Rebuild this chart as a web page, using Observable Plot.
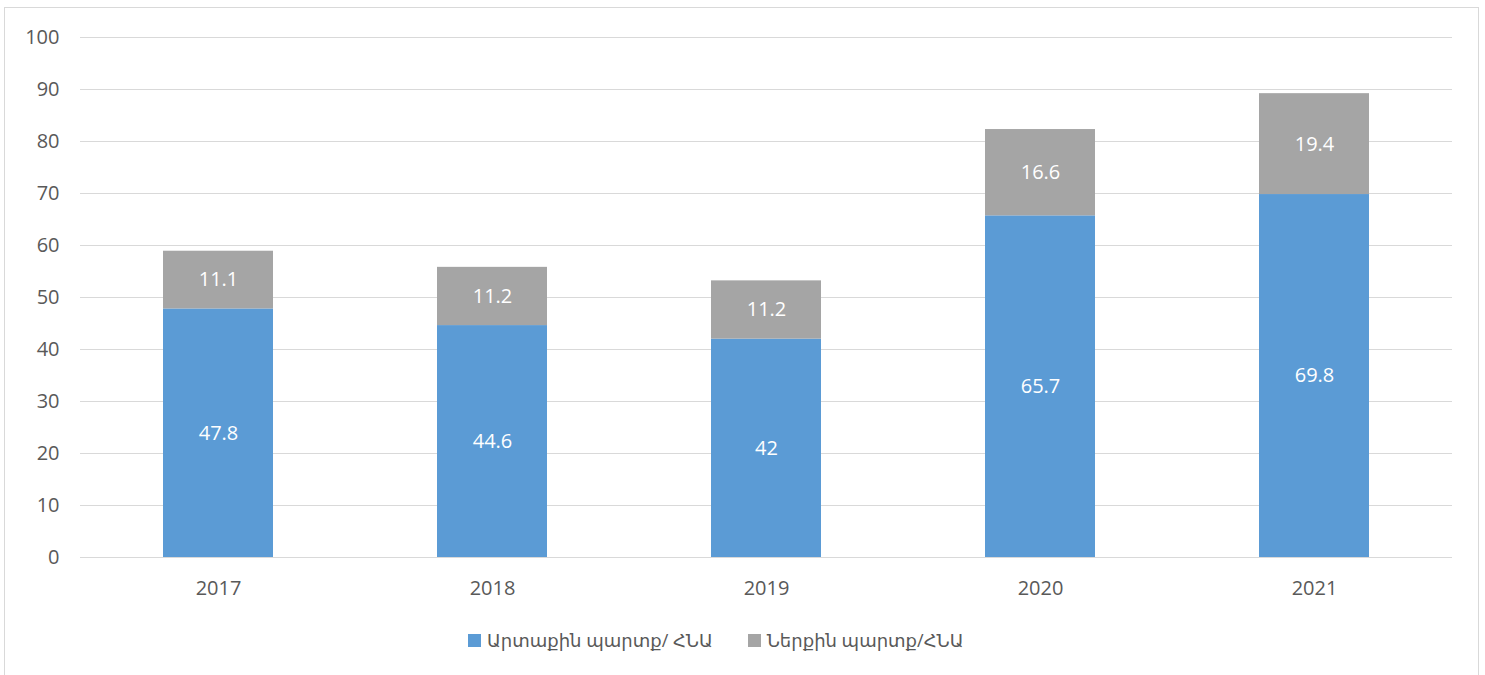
<!DOCTYPE html>
<html>
<head>
<meta charset="utf-8">
<script src="https://cdn.jsdelivr.net/npm/d3@7"></script>
<script src="https://cdn.jsdelivr.net/npm/@observablehq/plot@0.6"></script>
<style>
  html, body { margin: 0; padding: 0; background: #fff; }
  body { width: 1485px; height: 675px; overflow: hidden; position: relative; font-family: "Open Sans", "DejaVu Sans", sans-serif; }
  #frame { position: absolute; left: 4px; top: 7px; width: 1475px; height: 700px; border: 1px solid #d9d9d9; box-sizing: border-box; }
  #chart { position: absolute; left: 0; top: 0; }
  #legend { position: absolute; top: 628px; left: 468px; display: flex; font-size: 18px; color: #595959; }
  .item { display: flex; align-items: center; }
  .sw { width: 13px; height: 13px; margin-right: 6px; }
</style>
</head>
<body>
<div id="frame"></div>
<div id="chart"></div>
<div id="legend"></div>
<script>
const years = ["2017", "2018", "2019", "2020", "2021"];
const external = [47.8, 44.6, 42, 65.7, 69.8];
const internal = [11.1, 11.2, 11.2, 16.6, 19.4];
const seriesNames = ["Արտաքին պարտք/ ՀՆԱ", "Ներքին պարտք/ՀՆԱ"];
const seriesColors = ["#5b9bd5", "#a5a5a5"];
const yTicks = [0, 10, 20, 30, 40, 50, 60, 70, 80, 90, 100];

const data = [];
years.forEach((y, i) => {
  data.push({year: y, series: seriesNames[0], value: external[i]});
  data.push({year: y, series: seriesNames[1], value: internal[i]});
});

const plot = Plot.plot({
  width: 1485,
  height: 615,
  marginLeft: 80,
  marginRight: 33,
  marginTop: 37,
  marginBottom: 58,
  style: {fontFamily: '"Open Sans", "DejaVu Sans", sans-serif', fontSize: "20px", color: "#595959", background: "transparent"},
  x: {domain: years, paddingInner: 0.6, paddingOuter: 0.3, label: null},
  y: {domain: [0, 100], label: null},
  color: {domain: seriesNames, range: seriesColors},
  marks: [
    Plot.gridY(yTicks, {stroke: "#d9d9d9", strokeOpacity: 1, strokeWidth: 1}),
    Plot.axisY(yTicks, {tickSize: 0, tickPadding: 21, fontSize: 20, fill: "#595959", label: null}),
    Plot.axisX({tickSize: 0, tickPadding: 23, fontSize: 20, fill: "#595959", label: null}),
    Plot.barY(data, {x: "year", y: "value", fill: "series", order: seriesNames}),
    Plot.text(data, Plot.stackY({x: "year", y: "value", z: "series", order: seriesNames, text: d => String(d.value), fill: "white", fontSize: 20}))
  ]
});
document.getElementById("chart").appendChild(plot);

const legend = document.getElementById("legend");
seriesNames.forEach((name, i) => {
  const item = document.createElement("div");
  item.className = "item";
  if (i > 0) item.style.marginLeft = "35px";
  const sw = document.createElement("div");
  sw.className = "sw";
  sw.style.background = seriesColors[i];
  const label = document.createElement("span");
  label.textContent = name;
  item.appendChild(sw);
  item.appendChild(label);
  legend.appendChild(item);
});
</script>
</body>
</html>
